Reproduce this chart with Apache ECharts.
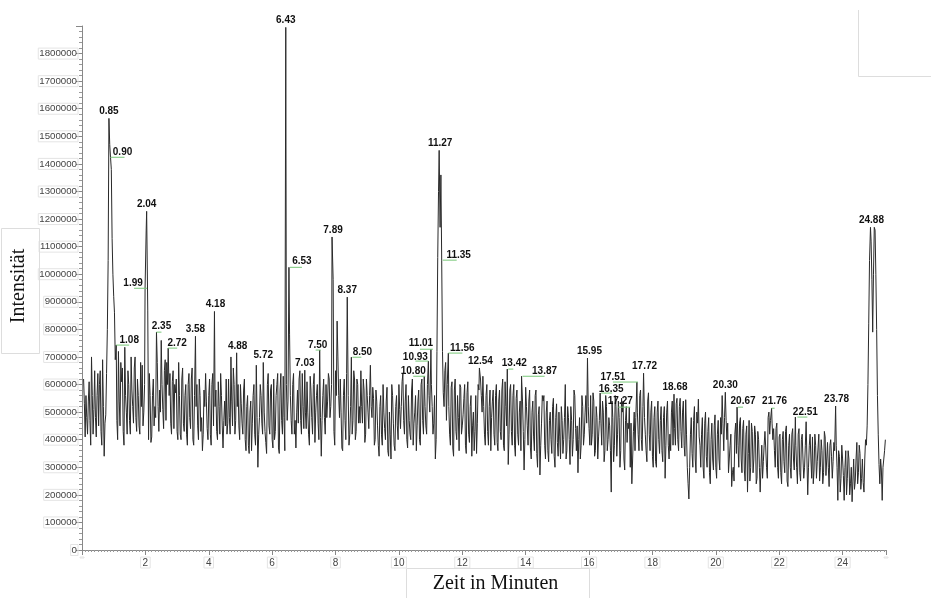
<!DOCTYPE html>
<html>
<head>
<meta charset="utf-8">
<script src="https://cdn.jsdelivr.net/npm/echarts@6/dist/echarts.min.js"></script>
<style>
html,body{margin:0;padding:0;background:#fff;}
#chart{width:931px;height:598px;}
</style>
</head>
<body>
<div id="chart"></div>
<script>
// Chromatogram read-out: intensity at 0.05 min steps from 0.05 min
const sampleStart = 0.05;
const sampleStep = 0.05;
const intensity = [
620000,410000,480000,540000,470000,700000,420000,650000,410000,640000,
600000,430000,690000,340000,490000,800000,1565000,1424000,1130000,920000,
690000,470000,720000,450000,610000,430000,735000,500000,650000,470000,
700000,520000,660000,480000,620000,450000,680000,670000,500000,1100000,
880000,400000,560000,410000,620000,520000,790000,520000,580000,760000,
510000,650000,470000,600000,560000,460000,610000,440000,570000,430000,
680000,420000,620000,460000,560000,420000,600000,480000,620000,400000,
560000,520000,450000,620000,430000,360000,580000,640000,440000,560000,
420000,600000,450000,520000,430000,610000,420000,560000,370000,540000,
620000,460000,480000,700000,450000,600000,470000,520000,450000,600000,
460000,580000,400000,520000,380000,500000,360000,560000,420000,670000,
300000,480000,560000,420000,500000,390000,600000,450000,580000,400000,
620000,430000,600000,370000,580000,470000,630000,360000,600000,540000,
780000,470000,600000,420000,370000,580000,620000,470000,640000,440000,
500000,610000,420000,630000,480000,600000,390000,560000,460000,725000,
340000,560000,480000,600000,540000,620000,520000,990000,430000,650000,
830000,560000,620000,370000,560000,470000,640000,560000,420000,699000,
470000,620000,430000,600000,520000,650000,460000,580000,420000,560000,
440000,670000,480000,550000,400000,540000,380000,520000,420000,600000,
440000,540000,360000,500000,330000,560000,380000,520000,450000,600000,
440000,610000,470000,540000,400000,560000,420000,580000,380000,500000,
360000,540000,400000,600000,470000,630000,450000,600000,560000,610000,
520000,460000,330000,720000,1300000,1170000,1051000,570000,650000,470000,
560000,420000,590000,370000,580000,430000,560000,360000,590000,450000,
550000,380000,570000,420000,520000,340000,500000,430000,350000,600000,
640000,560000,630000,420000,560000,430000,520000,360000,540000,420000,
560000,390000,540000,430000,580000,380000,610000,450000,310000,580000,
430000,560000,380000,550000,420000,500000,360000,540000,290000,590000,
450000,540000,370000,500000,410000,560000,350000,490000,272000,460000,
540000,380000,500000,360000,470000,400000,520000,340000,480000,390000,
500000,330000,470000,400000,600000,360000,480000,310000,470000,400000,
560000,360000,280000,480000,380000,520000,420000,560000,696000,440000,
560000,420000,540000,360000,480000,410000,569000,380000,500000,360000,
520000,400000,450000,210000,480000,380000,520000,420000,480000,360000,
500000,330000,470000,390000,440000,300000,240000,430000,360000,560000,
420000,560000,400000,520000,480000,360000,540000,420000,500000,340000,
480000,320000,500000,400000,470000,360000,480000,260000,500000,380000,
420000,500000,380000,440000,530000,400000,520000,430000,500000,380000,
545000,300000,185000,420000,350000,470000,330000,500000,547000,380000,
420000,300000,460000,340000,430000,280000,400000,330000,450000,300000,
420000,330000,480000,560000,360000,572000,400000,280000,380000,230000,
300000,420000,350000,380000,460000,330000,440000,290000,420000,210000,
470000,300000,430000,330000,420000,260000,400000,210000,380000,320000,
430000,300000,480000,420000,490000,400000,360000,440000,300000,410000,
280000,400000,320000,430000,250000,380000,300000,420000,330000,410000,
300000,420000,280000,400000,330000,300000,465000,200000,380000,330000,
410000,290000,380000,320000,420000,300000,360000,280000,410000,330000,
300000,380000,340000,320000,360000,380000,180000,340000,260000,330000,
180000,360000,260000,330000,240000,175000,330000,250000,390000,280000,
350000,260000,245000,330000,380000,600000,1050000,1120000,790000,1170000,
1000000,560000,310000,330000,180000,330000,400000
];

// Intermediate read-out: intensity at 0.05 min steps from 0.075 min
const midStart = 0.075;
const midIntensity = [
530000,560000,420000,610000,380000,560000,510000,480000,560000,450000,
650000,380000,520000,460000,640000,1050000,1470000,1380000,1000000,860000,
600000,400000,540000,680000,660000,380000,560000,420000,600000,420000,
580000,460000,700000,430000,560000,420000,520000,450000,600000,1160000,
870000,640000,390000,560000,450000,480000,680000,430000,500000,600000,
440000,690000,680000,600000,640000,420000,650000,600000,620000,400000,
560000,400000,660000,430000,600000,380000,640000,440000,660000,380000,
600000,600000,400000,560000,480000,420000,520000,540000,400000,620000,
380000,640000,700000,580000,400000,520000,640000,450000,470000,450000,
420000,620000,420000,540000,660000,420000,650000,600000,400000,530000,
420000,620000,360000,560000,350000,540000,460000,600000,380000,480000,
420000,600000,460000,600000,430000,350000,640000,420000,600000,370000,
400000,560000,640000,350000,640000,420000,480000,800000,470000,900000,
560000,420000,640000,470000,500000,460000,650000,420000,520000,600000,
440000,500000,380000,580000,420000,640000,500000,600000,400000,480000,
470000,620000,420000,480000,640000,480000,600000,980000,380000,560000,
700000,480000,500000,360000,620000,400000,700000,380000,520000,420000,
650000,400000,620000,460000,460000,520000,620000,390000,620000,500000,
560000,520000,590000,380000,580000,450000,340000,560000,380000,500000,
400000,590000,340000,420000,600000,460000,360000,560000,400000,510000,
520000,640000,420000,600000,370000,470000,400000,620000,460000,560000,
450000,580000,380000,620000,420000,520000,420000,640000,500000,600000,
420000,560000,400000,1060000,1400000,1360000,720000,520000,680000,600000,
520000,380000,610000,340000,620000,400000,480000,600000,420000,490000,
600000,350000,610000,390000,560000,450000,360000,560000,460000,580000,
620000,500000,520000,380000,600000,380000,580000,480000,580000,380000,
600000,360000,580000,400000,620000,360000,520000,600000,420000,600000,
380000,600000,340000,580000,380000,540000,560000,430000,400000,520000,
380000,580000,330000,540000,360000,580000,300000,520000,380000,560000,
560000,330000,540000,320000,500000,350000,550000,300000,530000,340000,
410000,520000,350000,480000,330000,520000,400000,520000,340000,580000,
440000,450000,400000,330000,560000,380000,500000,460000,520000,380000,
380000,570000,340000,520000,330000,470000,460000,540000,320000,560000,
360000,480000,360000,540000,320000,560000,340000,540000,300000,550000,
540000,290000,520000,460000,480000,460000,330000,500000,480000,500000,
360000,580000,360000,600000,420000,320000,570000,360000,540000,300000,
520000,300000,540000,350000,520000,320000,520000,380000,540000,330000,
360000,540000,500000,380000,550000,360000,550000,370000,540000,340000,
420000,240000,300000,480000,300000,520000,280000,460000,410000,300000,
480000,260000,500000,300000,480000,240000,460000,290000,490000,260000,
470000,290000,420000,460000,480000,470000,460000,330000,420000,280000,
250000,460000,450000,300000,480000,280000,470000,250000,450000,350000,
250000,460000,280000,450000,240000,430000,300000,300000,260000,380000,
370000,260000,500000,470000,460000,440000,300000,460000,260000,420000,
240000,430000,280000,450000,230000,420000,260000,440000,290000,380000,
240000,440000,250000,420000,260000,380000,330000,300000,420000,260000,
240000,420000,260000,370000,250000,400000,240000,430000,270000,390000,
230000,400000,260000,390000,450000,300000,360000,210000,380000,270000,
300000,200000,360000,200000,300000,250000,220000,330000,240000,380000,
220000,330000,210000,400000,450000,820000,1100000,980000,1000000,1160000,
800000,420000,240000,290000,300000,360000
];

// Labelled peaks (retention time in min, apex intensity)
const peakTimes = [0.85,0.90,1.08,1.99,2.04,2.35,2.72,3.58,4.18,4.88,5.72,6.43,6.53,7.03,7.50,7.89,8.37,8.50,10.80,10.93,11.01,11.27,11.35,11.56,12.54,13.42,13.87,15.95,16.35,17.27,17.51,17.72,18.68,20.30,20.67,21.76,22.51,23.78,24.88];
const peakValues = [1565000,1424000,743000,949000,1228000,790000,732000,775000,865000,715000,680000,1895000,1025000,652000,725000,1135000,917000,699000,630000,685000,728000,1449000,1051000,714000,660000,656000,630000,696000,569000,518000,609000,641000,565000,572000,518000,514000,482000,522000,1170000];
const peakLabels = ['0.85','0.90','1.08','1.99','2.04','2.35','2.72','3.58','4.18','4.88','5.72','6.43','6.53','7.03','7.50','7.89','8.37','8.50','10.80','10.93','11.01','11.27','11.35','11.56','12.54','13.42','13.87','15.95','16.35','17.27','17.51','17.72','18.68','20.30','20.67','21.76','22.51','23.78','24.88'];

// Axis settings
const xMin = 0, xMax = 25.37, xInterval = 2;
const yMin = 0, yMax = 1900000, yInterval = 100000;

// Label placement (pixel offsets, style only)
const C = {dx:0, dy:-7};
const peakLayout = [
  C, {dx:12,dy:-5,line:[0,14]}, {dx:13,dy:-5,line:[0,13]}, {dx:-12,dy:-5,line:[-11,2]}, C,
  {dx:5,dy:-6,line:[0,5]}, {dx:9,dy:-5,line:[0,9]}, C, {dx:1,dy:-7}, {dx:1,dy:-7},
  C, C, {dx:13,dy:-6,line:[1,13]}, C, {dx:-2,dy:-5,line:[-4,1]},
  {dx:1,dy:-7}, C, {dx:11,dy:-5,line:[1,10]}, {dx:-11,dy:-5,line:[-11,1]}, {dx:-13,dy:-4,line:[-13,0]},
  {dx:-10,dy:-6,line:[-11,2]}, {dx:1,dy:-7}, {dx:17,dy:-5,line:[1,15]}, {dx:14,dy:-5,line:[0,14]}, {dx:1,dy:-7},
  {dx:7,dy:-6,line:[1,6]}, {dx:23,dy:-5,line:[1,23]}, {dx:2,dy:-7}, {dx:11,dy:-4,line:[1,12]}, {dx:-9,dy:-6,line:[-11,1]},
  {dx:-24,dy:-5,line:[-24,1]}, {dx:1,dy:-7}, {dx:1,dy:-7}, C, {dx:6,dy:-6,line:[1,6]},
  {dx:3,dy:-7,line:[0,3]}, {dx:10,dy:-5,line:[2,12]}, {dx:1,dy:-7}, {dx:1,dy:-7}
];

// Build trace: samples merged with labelled apexes (samples right at an apex give way to it)
const nearPeak = t => peakTimes.some(p => Math.abs(p - t) < 0.012);
const trace = [];
intensity.forEach((v, i) => {
  const t = +(sampleStart + i * sampleStep).toFixed(3);
  if (!nearPeak(t)) trace.push([t, v]);
});
midIntensity.forEach((v, i) => {
  const t = +(midStart + i * sampleStep).toFixed(3);
  if (!nearPeak(t)) trace.push([t, v]);
});
peakTimes.forEach((t, i) => trace.push([t, peakValues[i]]));
trace.sort((a, b) => a[0] - b[0]);

const peakData = peakTimes.map((t, i) => [t, peakValues[i], i]);

const chart = echarts.init(document.getElementById('chart'), null, {renderer: 'canvas'});
const labelFont = '"Liberation Sans", Arial, sans-serif';

chart.setOption({
  animation: false,
  backgroundColor: '#ffffff',
  grid: {left: 82, right: 45, top: 26, bottom: 48, containLabel: false},
  xAxis: {
    type: 'value', min: xMin, max: xMax, interval: xInterval,
    axisLine: {show: true, onZero: false, lineStyle: {color: '#888', width: 1}},
    axisTick: {show: true, length: 5, lineStyle: {color: '#888'}},
    minorTick: {show: true, splitNumber: 20, length: 2, lineStyle: {color: '#999'}},
    splitLine: {show: false},
    axisLabel: {
      margin: 7, fontSize: 10, color: '#444', fontFamily: labelFont,
      borderColor: '#e4e4e4', borderWidth: 1, padding: [1, 2, 0, 2],
      formatter: v => (v > 0 && Math.abs(v % 2) < 1e-9) ? String(v) : ''
    }
  },
  yAxis: {
    type: 'value', min: yMin, max: yMax, interval: yInterval,
    axisLine: {show: true, lineStyle: {color: '#888', width: 1}},
    axisTick: {show: true, length: 6, lineStyle: {color: '#888'}},
    minorTick: {show: true, splitNumber: 5, length: 3, lineStyle: {color: '#999'}},
    splitLine: {show: false},
    axisLabel: {
      margin: 4, fontSize: 9.7, color: '#444', fontFamily: labelFont,
      borderColor: '#e4e4e4', borderWidth: 1, padding: [1, 1, 0, 1],
      showMaxLabel: false,
      formatter: v => v >= yMax ? '' : String(v)
    }
  },
  graphic: [
    {type: 'rect', left: -1, top: 226, shape: {width: 38, height: 125},
     style: {fill: 'none', stroke: '#dddddd', lineWidth: 1}, z: 1},
    {type: 'text', x: 19, y: 286, rotation: Math.PI / 2,
     style: {text: 'Intensität', font: '20px "Liberation Serif", "Times New Roman", serif',
             fill: '#111', align: 'center', verticalAlign: 'middle'}, z: 2},
    {type: 'rect', left: 404, top: 566, shape: {width: 183, height: 40},
     style: {fill: 'none', stroke: '#dddddd', lineWidth: 1}, z: 1},
    {type: 'text', x: 495.5, y: 584,
     style: {text: 'Zeit in Minuten', font: '20px "Liberation Serif", "Times New Roman", serif',
             fill: '#111', align: 'center', verticalAlign: 'middle'}, z: 2},
    {type: 'line', shape: {x1: 858.5, y1: 10, x2: 858.5, y2: 76.5}, style: {stroke: '#dddddd', lineWidth: 1}},
    {type: 'line', shape: {x1: 858.5, y1: 76.5, x2: 931, y2: 76.5}, style: {stroke: '#dddddd', lineWidth: 1}}
  ],
  series: [
    {
      type: 'line', data: trace, showSymbol: false, symbol: 'none',
      lineStyle: {color: '#2a2a2a', width: 1}, clip: false, z: 3
    },
    {
      type: 'custom', data: peakData, clip: false, z: 5,
      renderItem: function (params, api) {
        const i = api.value(2);
        const p = api.coord([api.value(0), api.value(1)]);
        const lay = peakLayout[i];
        const children = [];
        if (lay.line) {
          children.push({
            type: 'line',
            shape: {x1: p[0] + lay.line[0], y1: p[1], x2: p[0] + lay.line[1], y2: p[1]},
            style: {stroke: '#78c878', lineWidth: 1}
          });
        }
        children.push({
          type: 'text', x: p[0] + lay.dx, y: p[1] + lay.dy,
          style: {text: peakLabels[i], font: 'bold 10px ' + labelFont, fill: '#111',
                  align: 'center', verticalAlign: 'middle'}
        });
        return {type: 'group', children: children};
      }
    }
  ]
});
</script>
</body>
</html>
